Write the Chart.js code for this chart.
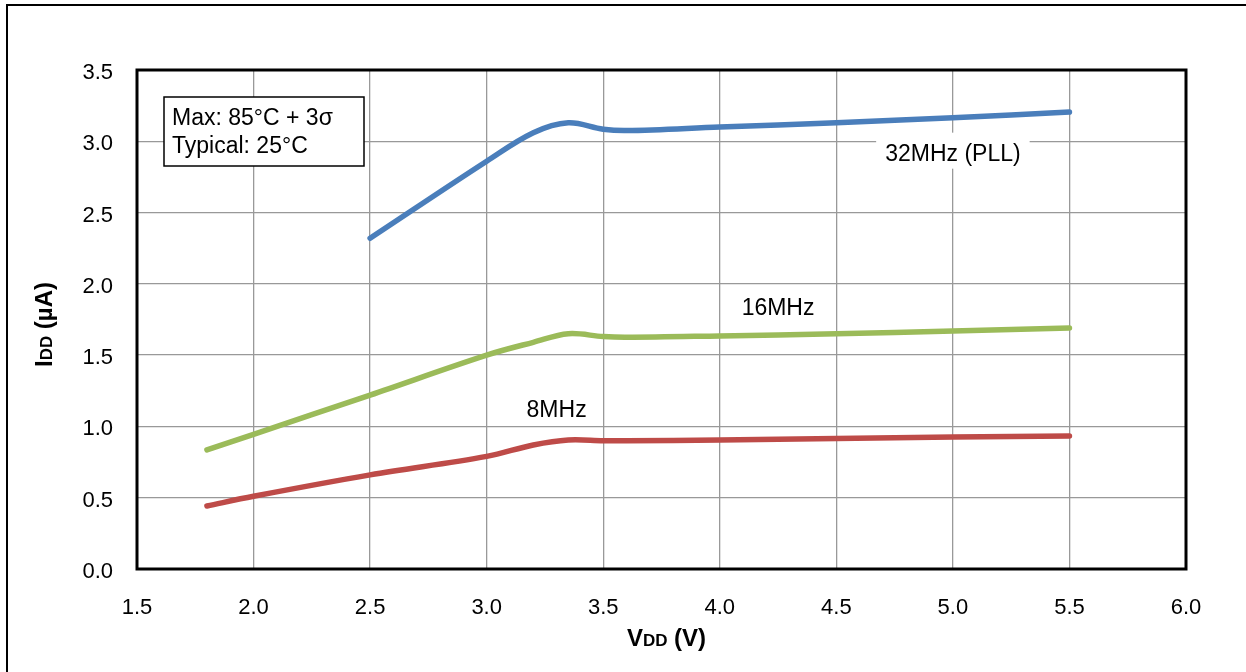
<!DOCTYPE html>
<html>
<head>
<meta charset="utf-8">
<script src="https://cdn.jsdelivr.net/npm/chart.js@4.4.1/dist/chart.umd.min.js"></script>
<style>
	body { margin: 0; background: #fff; }
	#wrap { width: 1246px; height: 672px; }
</style>
</head>
<body>
<div id="wrap"><canvas id="idd_graph" width="1246" height="672"></canvas></div>
<script>
// supply voltage (V) at which the curves were read
var vdd = [1.8, 2.0, 2.5, 3.0, 3.2, 3.35, 3.5, 3.6, 4.0, 4.5, 5.0, 5.5];
// IDD (uA) per clock
var idd32 = [null, null, 2.32, 2.86, 3.06, 3.13, 3.085, 3.075, 3.10, 3.13, 3.165, 3.205];
var idd16 = [0.835, 0.945, 1.22, 1.50, 1.59, 1.65, 1.63, 1.625, 1.635, 1.65, 1.67, 1.69];
var idd8 = [0.442, 0.51, 0.66, 0.79, 0.87, 0.905, 0.90, 0.90, 0.905, 0.915, 0.925, 0.933];
var seriesNames = ['32MHz (PLL)', '16MHz', '8MHz'];

var xTicks = [1.5, 2.0, 2.5, 3.0, 3.5, 4.0, 4.5, 5.0, 5.5, 6.0];
var yTicks = [0.0, 0.5, 1.0, 1.5, 2.0, 2.5, 3.0, 3.5];

var FONT = '"Liberation Sans", Arial, sans-serif';

function toPoints(ys) {
	var pts = [];
	for (var i = 0; i < vdd.length; i++) {
		pts.push({ x: vdd[i], y: ys[i] });
	}
	return pts;
}

// text drawn on top of the plot (titles, note box, curve names)
var decorPlugin = {
	id: 'decor',
	beforeDraw: function(chart) {
		var c = chart.ctx;
		c.save();
		c.fillStyle = '#fff';
		c.fillRect(0, 0, chart.width, chart.height);
		c.strokeStyle = '#000';
		c.lineWidth = 2;
		c.strokeRect(7, 5, chart.width + 20, chart.height + 20);
		c.restore();
	},
	beforeDatasetsDraw: function(chart) {
		var c = chart.ctx;
		var a = chart.chartArea;
		c.save();
		c.strokeStyle = '#000';
		c.lineWidth = 3;
		c.strokeRect(a.left, a.top, a.right - a.left, a.bottom - a.top);
		c.restore();
	},
	afterDatasetsDraw: function(chart) {
		var c = chart.ctx;
		var a = chart.chartArea;
		var xs = chart.scales.x;
		var ys = chart.scales.y;
		c.save();

		// note box
		var bx = a.left + 27, by = a.top + 27;
		c.fillStyle = '#fff';
		c.fillRect(bx, by, 200, 69);
		c.strokeStyle = '#000';
		c.lineWidth = 1.5;
		c.strokeRect(bx, by, 200, 69);
		c.fillStyle = '#000';
		c.font = '23px ' + FONT;
		c.textAlign = 'left';
		c.textBaseline = 'alphabetic';
		c.fillText('Max: 85°C + 3σ', bx + 8, by + 28);
		c.fillText('Typical: 25°C', bx + 8, by + 56);

		// curve names
		var labels = [
			{ text: seriesNames[0], x: 5.0, y: 2.864, bg: true },
			{ text: seriesNames[1], x: 4.25, y: 1.782, bg: false },
			{ text: seriesNames[2], x: 3.30, y: 1.064, bg: false }
		];
		c.textAlign = 'center';
		labels.forEach(function(l) {
			var px = xs.getPixelForValue(l.x);
			var py = ys.getPixelForValue(l.y);
			var w = c.measureText(l.text).width;
			if (l.bg) {
				c.fillStyle = '#fff';
				c.fillRect(px - w / 2 - 9, py - 28, w + 18, 36);
			}
			c.fillStyle = '#000';
			c.fillText(l.text, px, py);
		});

		// axis titles with small "DD"
		var big = 'bold 24px ' + FONT, small = 'bold 17px ' + FONT;
		function titleWidth(p1, p2, p3) {
			c.font = big; var w1 = c.measureText(p1).width + c.measureText(p3).width;
			c.font = small; return w1 + c.measureText(p2).width;
		}
		function drawTitle(p1, p2, p3, cx, base) {
			var w = titleWidth(p1, p2, p3);
			var x0 = cx - w / 2;
			c.textAlign = 'left';
			c.font = big; c.fillText(p1, x0, base); x0 += c.measureText(p1).width;
			c.font = small; c.fillText(p2, x0, base); x0 += c.measureText(p2).width;
			c.font = big; c.fillText(p3, x0, base);
		}
		c.fillStyle = '#000';
		drawTitle('V', 'DD', ' (V)', (a.left + a.right) / 2 + 5, 646);
		c.translate(52, (a.top + a.bottom) / 2 + 5);
		c.rotate(-Math.PI / 2);
		drawTitle('I', 'DD', ' (µA)', 0, 0);
		c.restore();
	}
};

const ctx = document.getElementById('idd_graph');
const idd_graph = new Chart(ctx, {
	type: 'line',
	data: {
		datasets: [{
			label: seriesNames[0],
			data: toPoints(idd32),
			borderColor: '#4A7EBB',
			borderWidth: 5.5
		}, {
			label: seriesNames[1],
			data: toPoints(idd16),
			borderColor: '#9BBB59',
			borderWidth: 5.5
		}, {
			label: seriesNames[2],
			data: toPoints(idd8),
			borderColor: '#BE4B48',
			borderWidth: 5.5
		}]
	},
	options: {
		responsive: false,
		animation: false,
		layout: { padding: { left: 0, top: 70, right: 60, bottom: 0 } },
		elements: {
			line: { tension: 0.35, borderCapStyle: 'round', fill: false },
			point: { radius: 0 }
		},
		scales: {
			x: {
				type: 'linear',
				min: 1.5,
				max: 6.0,
				afterFit: function(s) { s.height = 103; },
				afterBuildTicks: function(s) { s.ticks = xTicks.map(function(v) { return { value: v }; }); },
				ticks: {
					color: '#000',
					font: { family: FONT, size: 22 },
					padding: 26,
					maxRotation: 0,
					callback: function(v) { return v.toFixed(1); }
				},
				grid: { color: '#999', lineWidth: 1.3, drawTicks: false },
				border: { display: false }
			},
			y: {
				min: 0,
				max: 3.5,
				afterFit: function(s) { s.width = 137; },
				afterBuildTicks: function(s) { s.ticks = yTicks.map(function(v) { return { value: v }; }); },
				ticks: {
					color: '#000',
					font: { family: FONT, size: 22 },
					padding: 24,
					labelOffset: 3,
					callback: function(v) { return v.toFixed(1); }
				},
				grid: { color: '#999', lineWidth: 1.3, drawTicks: false },
				border: { display: false }
			}
		},
		plugins: {
			legend: { display: false },
			tooltip: { enabled: false }
		}
	},
	plugins: [decorPlugin]
});
</script>
</body>
</html>
